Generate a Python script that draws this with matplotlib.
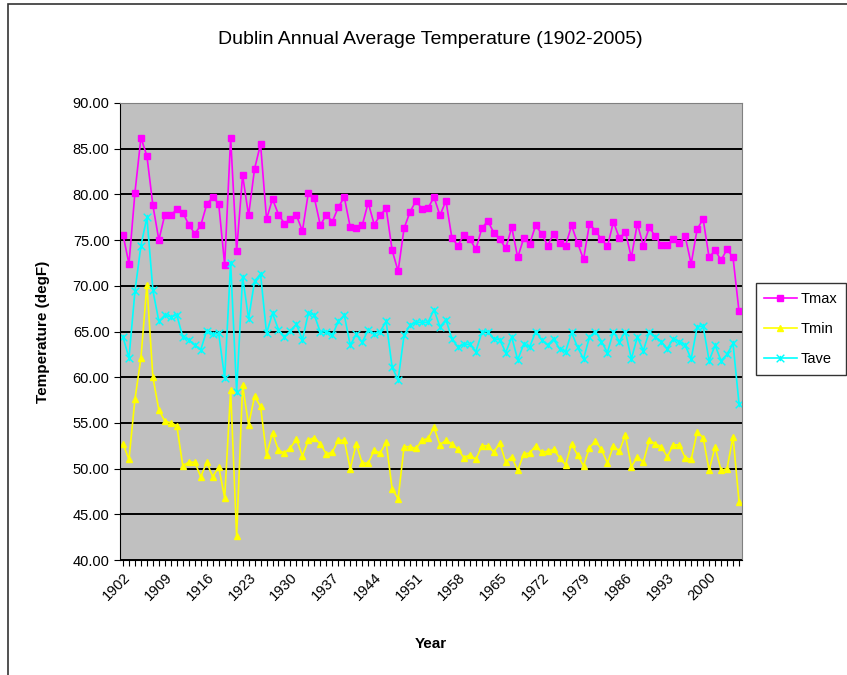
import matplotlib
matplotlib.use("Agg")
from matplotlib import pyplot as plt
from matplotlib.path import Path
from matplotlib.patches import Rectangle
from matplotlib.ticker import MultipleLocator, FormatStrFormatter

plt.rcParams["font.family"] = ["Liberation Sans", "DejaVu Sans"]

years = list(range(1902, 2006))

tmax = [75.6, 72.4, 80.2, 86.2, 84.2, 78.8, 75.0, 77.8, 77.7, 78.4,
        78.0, 76.7, 75.7, 76.6, 78.9, 79.7, 79.0, 72.3, 86.2, 73.8,
        82.1, 77.7, 82.8, 85.5, 77.3, 79.5, 77.8, 76.8, 77.3, 77.7,
        76.0, 80.2, 79.6, 76.6, 77.8, 77.0, 78.6, 79.7, 76.4, 76.3,
        76.6, 79.1, 76.7, 77.7, 78.5, 73.9, 71.6, 76.3, 78.1, 79.3,
        78.4, 78.5, 79.7, 77.7, 79.3, 75.2, 74.4, 75.6, 75.1, 74.0,
        76.3, 77.1, 75.8, 75.1, 74.1, 76.4, 73.1, 75.2, 74.6, 76.6,
        75.7, 74.4, 75.7, 74.7, 74.4, 76.6, 74.7, 72.9, 76.8, 76.0,
        75.1, 74.3, 77.0, 75.2, 75.9, 73.1, 76.8, 74.4, 76.4, 75.4,
        74.5, 74.5, 75.1, 74.7, 75.4, 72.4, 76.2, 77.3, 73.1, 73.9,
        72.8, 74.0, 73.1, 67.2]

tmin = [52.7, 51.0, 57.6, 62.1, 70.1, 60.0, 56.4, 55.2, 55.0, 54.7,
        50.3, 50.7, 50.7, 49.1, 50.7, 49.1, 50.2, 46.8, 58.6, 42.6,
        59.1, 54.8, 57.9, 56.8, 51.5, 53.9, 52.0, 51.7, 52.3, 53.2,
        51.4, 53.1, 53.4, 52.7, 51.6, 51.8, 53.1, 53.1, 50.0, 52.7,
        50.6, 50.6, 52.0, 51.7, 52.9, 47.8, 46.7, 52.4, 52.4, 52.2,
        53.1, 53.3, 54.5, 52.6, 53.1, 52.7, 52.1, 51.2, 51.5, 51.0,
        52.5, 52.5, 51.8, 52.8, 50.7, 51.3, 49.8, 51.6, 51.7, 52.5,
        51.8, 51.9, 52.1, 51.2, 50.4, 52.7, 51.5, 50.3, 52.3, 53.0,
        52.1, 50.6, 52.5, 51.9, 53.7, 50.2, 51.3, 50.7, 53.1, 52.7,
        52.4, 51.3, 52.6, 52.6, 51.2, 51.0, 54.0, 53.4, 49.8, 52.4,
        49.8, 50.0, 53.5, 46.4]

tave = [64.4, 62.1, 69.4, 74.4, 77.5, 69.5, 66.1, 66.8, 66.6, 66.8,
        64.4, 64.1, 63.5, 63.0, 65.1, 64.7, 64.8, 59.9, 72.5, 58.4,
        71.0, 66.4, 70.5, 71.3, 64.8, 67.0, 65.2, 64.4, 65.1, 65.8,
        64.1, 67.0, 66.8, 64.9, 65.0, 64.6, 66.1, 66.8, 63.5, 64.7,
        63.8, 65.2, 64.7, 65.0, 66.1, 61.1, 59.7, 64.6, 65.7, 66.0,
        66.0, 66.0, 67.4, 65.5, 66.3, 64.2, 63.3, 63.6, 63.6, 62.8,
        64.9, 65.0, 64.2, 64.1, 62.7, 64.4, 61.9, 63.6, 63.3, 65.0,
        64.1, 63.5, 64.2, 63.1, 62.8, 64.9, 63.3, 62.0, 64.4, 65.0,
        63.9, 62.7, 65.0, 63.9, 65.0, 62.0, 64.4, 62.9, 65.0, 64.4,
        63.9, 63.1, 64.2, 63.9, 63.5, 62.0, 65.5, 65.6, 61.8, 63.5,
        61.8, 62.5, 63.7, 57.1]

# excel style "star" marker: an x with a short vertical bar
star = Path([(-1, -1), (1, 1), (-1, 1), (1, -1), (0, -0.7), (0, 0.7)],
            [Path.MOVETO, Path.LINETO, Path.MOVETO, Path.LINETO, Path.MOVETO, Path.LINETO])

fig = plt.figure(figsize=(8.47, 6.75), dpi=100)
fig.patches.append(Rectangle((8 / 847, -0.01), 1.0, 1 - 4 / 675 + 0.01, transform=fig.transFigure,
                             fill=False, edgecolor="#333333", linewidth=1.2))

ax = fig.add_axes([120 / 847, 1 - 560 / 675, 622 / 847, 457 / 675])
ax.set_facecolor("#C0C0C0")

ax.plot(years, tmax, color="#FF00FF", linewidth=1.2, marker="s", markersize=4.5, label="Tmax")
ax.plot(years, tmin, color="#FFFF00", linewidth=1.2, marker="^", markersize=5, label="Tmin")
ax.plot(years, tave, color="#00FFFF", linewidth=1.2, marker=star, markersize=5.5,
        markeredgewidth=1, label="Tave")

ax.set_xlim(1901.5, 2005.5)
ax.set_ylim(40, 90)
ax.yaxis.set_major_locator(MultipleLocator(5))
ax.yaxis.set_major_formatter(FormatStrFormatter("%.2f"))
ax.grid(axis="y", color="black", linewidth=1.4)
ax.set_axisbelow(True)

ax.set_xticks(list(range(1902, 2006, 7)))
ax.set_xticks(years, minor=True)
ax.tick_params(axis="x", which="both", direction="out", length=4, labelsize=10.5, width=0.8)
ax.tick_params(axis="y", direction="out", length=4, labelsize=10.5)
for lab in ax.get_xticklabels():
    lab.set_rotation(45)
    lab.set_ha("right")
    lab.set_va("top")
    lab.set_rotation_mode("anchor")

for side in ["top", "right"]:
    ax.spines[side].set_color("#808080")
for side in ["left", "bottom"]:
    ax.spines[side].set_color("black")

ax.set_xlabel("Year", fontsize=11, fontweight="bold", labelpad=24)
ax.set_ylabel("Temperature (degF)", fontsize=11, fontweight="bold", labelpad=16)
fig.text(430 / 847, 1 - 40 / 675, "Dublin Annual Average Temperature (1902-2005)",
         fontsize=14, ha="center", va="center")

leg = ax.legend(loc="center left", bbox_to_anchor=(1.022, 0.505), frameon=True, fancybox=False,
                edgecolor="black", fontsize=10.5, handlelength=2.2, handletextpad=0.3,
                borderpad=0.6, borderaxespad=0, labelspacing=1.1)
leg.get_frame().set_linewidth(1)

plt.savefig("out.png", dpi=100)
